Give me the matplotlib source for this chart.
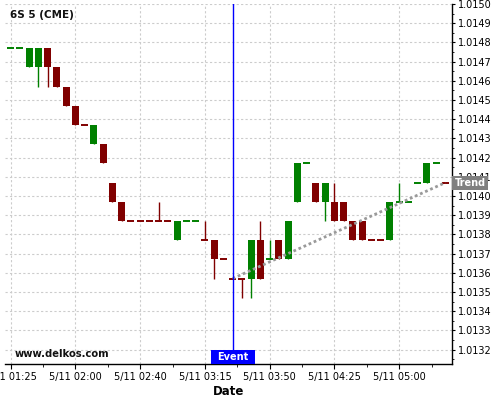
import numpy as np
import matplotlib
matplotlib.use("Agg")
import matplotlib.pyplot as plt
import matplotlib.transforms as mtransforms
from matplotlib.patches import Rectangle

# 5-minute candles, 6S (CME)
opens  = [1.01477, 1.01477, 1.01467, 1.01467, 1.01477, 1.01467, 1.01457, 1.01447,
          1.01437, 1.01427, 1.01427, 1.01407, 1.01397, 1.01387, 1.01387, 1.01387,
          1.01387, 1.01387, 1.01377, 1.01387, 1.01387, 1.01377, 1.01377, 1.01367,
          1.01357, 1.01357, 1.01357, 1.01377, 1.01367, 1.01377, 1.01367, 1.01397,
          1.01417, 1.01407, 1.01397, 1.01397, 1.01397, 1.01387, 1.01387, 1.01377,
          1.01377, 1.01377, 1.01397, 1.01397, 1.01407, 1.01407, 1.01417, 1.01407]
highs  = [1.01477, 1.01477, 1.01477, 1.01477, 1.01477, 1.01467, 1.01457, 1.01447,
          1.01437, 1.01437, 1.01427, 1.01407, 1.01397, 1.01387, 1.01387, 1.01387,
          1.01397, 1.01387, 1.01387, 1.01387, 1.01387, 1.01387, 1.01377, 1.01367,
          1.01357, 1.01357, 1.01377, 1.01387, 1.01377, 1.01377, 1.01387, 1.01417,
          1.01417, 1.01407, 1.01407, 1.01407, 1.01397, 1.01387, 1.01387, 1.01377,
          1.01377, 1.01397, 1.01407, 1.01397, 1.01407, 1.01417, 1.01417, 1.01407]
lows   = [1.01477, 1.01477, 1.01467, 1.01457, 1.01457, 1.01457, 1.01447, 1.01437,
          1.01437, 1.01427, 1.01417, 1.01397, 1.01387, 1.01387, 1.01387, 1.01387,
          1.01387, 1.01387, 1.01377, 1.01387, 1.01387, 1.01377, 1.01357, 1.01367,
          1.01357, 1.01347, 1.01347, 1.01357, 1.01367, 1.01367, 1.01367, 1.01397,
          1.01417, 1.01397, 1.01387, 1.01387, 1.01387, 1.01377, 1.01377, 1.01377,
          1.01377, 1.01377, 1.01397, 1.01397, 1.01407, 1.01407, 1.01417, 1.01407]
closes = [1.01477, 1.01477, 1.01477, 1.01477, 1.01467, 1.01457, 1.01447, 1.01437,
          1.01437, 1.01437, 1.01417, 1.01397, 1.01387, 1.01387, 1.01387, 1.01387,
          1.01387, 1.01387, 1.01387, 1.01387, 1.01387, 1.01377, 1.01367, 1.01367,
          1.01357, 1.01357, 1.01377, 1.01357, 1.01367, 1.01367, 1.01387, 1.01417,
          1.01417, 1.01397, 1.01407, 1.01387, 1.01387, 1.01377, 1.01377, 1.01377,
          1.01377, 1.01397, 1.01397, 1.01397, 1.01407, 1.01417, 1.01417, 1.01407]

tick_idx    = [0, 7, 14, 21, 28, 35, 42]
tick_labels = ["5/11 01:25", "5/11 02:00", "5/11 02:40", "5/11 03:15",
               "5/11 03:50", "5/11 04:25", "5/11 05:00"]

event_idx = 24
trend_x   = [24, 47]
trend_y   = [1.01357, 1.01407]

UP, DOWN = "#008000", "#800000"
BODY_W = 0.75


def candle_colors(o, c):
    # flat candles keep direction vs previous close, else previous colour
    cols, prev_c, prev_col = [], None, UP
    for oo, cc in zip(o, c):
        if cc > oo + 1e-9:
            col = UP
        elif cc < oo - 1e-9:
            col = DOWN
        elif prev_c is not None and cc > prev_c + 1e-9:
            col = UP
        elif prev_c is not None and cc < prev_c - 1e-9:
            col = DOWN
        else:
            col = prev_col
        cols.append(col)
        prev_c, prev_col = cc, col
    return cols


def main():
    fig = plt.figure(figsize=(5, 4), dpi=100)
    ax = fig.add_axes([0.0106, 0.089, 0.8940, 0.901])
    ax.set_axisbelow(True)

    cols = candle_colors(opens, closes)

    for i, (o, h, l, c, col) in enumerate(zip(opens, highs, lows, closes, cols)):
        ax.vlines(i, l, h, color=col, lw=1.0, zorder=2)
        if abs(c - o) < 1e-9:
            ax.hlines(o, i - BODY_W / 2, i + BODY_W / 2, color=col, lw=1.4, zorder=3)
        else:
            ax.bar(i, abs(c - o), bottom=min(o, c), width=BODY_W,
                   color=col, edgecolor="none", zorder=3)

    # trend line
    ax.plot(trend_x, trend_y, color="#9a9a9a", lw=2, ls=(0, (1, 1)), zorder=4)

    # event marker
    ax.axvline(event_idx, color="#0000ff", lw=1, zorder=5)
    blend = mtransforms.blended_transform_factory(ax.transData, ax.transAxes)
    ax.add_patch(Rectangle((event_idx - 2.38, 0), 4.76, 0.039, transform=blend,
                           facecolor="#0000ff", edgecolor="none", zorder=6,
                           clip_on=False))
    ax.text(event_idx, 0.0195, "Event", transform=blend, ha="center", va="center",
            color="white", fontsize=7, fontweight="bold", zorder=7)

    # trend tag on the price axis
    blend_y = mtransforms.blended_transform_factory(ax.transAxes, ax.transData)
    ax.text(1.005, trend_y[-1] - 0.000002, "Trend", transform=blend_y,
            ha="left", va="center", color="white", fontsize=7, fontweight="bold",
            zorder=8, clip_on=False,
            bbox=dict(boxstyle="square,pad=0.24", fc="#808080", ec="none"))

    ax.text(0.0105, 0.982, "6S 5 (CME)", transform=ax.transAxes, ha="left", va="top",
            fontsize=7.5, fontweight="bold", color="#111111")
    ax.text(0.0217, 0.0194, "www.delkos.com", transform=ax.transAxes, ha="left",
            va="baseline", fontsize=7.2, fontweight="bold", color="#111111")

    ax.set_xlim(-0.58, 47.74)
    ax.set_ylim(1.013123, 1.015000)

    ax.set_xticks(tick_idx)
    ax.set_xticklabels(tick_labels)
    ax.set_xticks([t + 3.5 for t in tick_idx], minor=True)
    yt = np.round(np.arange(1.0132, 1.01501, 0.0001), 4)
    ax.set_yticks(yt)
    ax.set_yticklabels([f"{v:.4f}" for v in yt])
    ax.set_yticks(np.round(np.arange(1.01315, 1.0150, 0.0001), 5), minor=True)
    ax.yaxis.tick_right()

    ax.tick_params(axis="x", which="major", direction="out", length=3.4, width=0.8,
                   labelsize=7, pad=2)
    ax.tick_params(axis="x", which="minor", direction="out", length=2, width=0.6)
    ax.tick_params(axis="y", which="major", direction="out", length=2.5, width=0.8,
                   labelsize=7, pad=1.5)
    ax.tick_params(axis="y", which="minor", direction="out", length=1.5, width=0.6)

    ax.grid(True, which="major", color="#cccccc", lw=0.8, ls=(0, (2, 2)))

    for side in ("top", "left"):
        ax.spines[side].set_visible(False)
    for side in ("bottom", "right"):
        ax.spines[side].set_color("black")
        ax.spines[side].set_linewidth(1)

    ax.set_xlabel("Date", fontsize=8.5, fontweight="bold", labelpad=2)

    fig.savefig("out.png", dpi=100)
    plt.close(fig)


if __name__ == "__main__":
    main()
